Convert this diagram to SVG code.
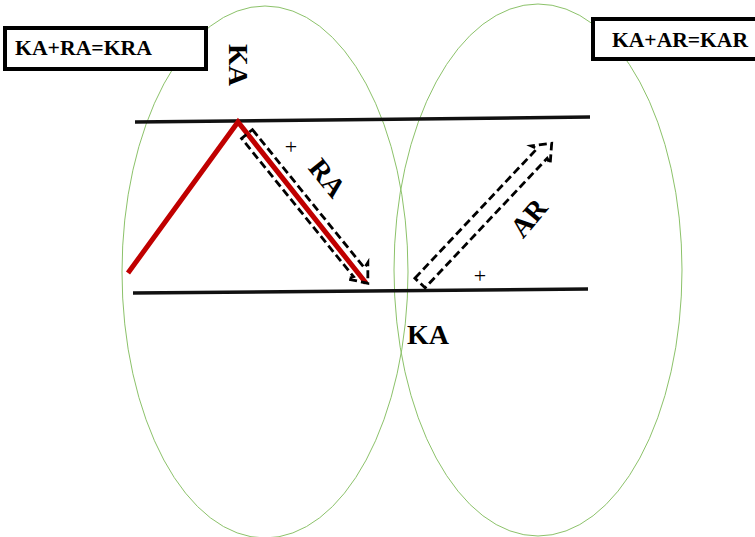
<svg xmlns="http://www.w3.org/2000/svg" width="755" height="537" viewBox="0 0 755 537">
<style>
.ell{fill:none;stroke:#8cc26a;stroke-width:1}
.bar{stroke:#111;stroke-width:3.5;fill:none}
.red{stroke:#c00000;stroke-width:5;fill:none;stroke-linejoin:miter}
.dash{fill:none;stroke:#000;stroke-width:2.8;stroke-dasharray:8 4}
.box{fill:#fff;stroke:#000;stroke-width:4}
.t{font-family:"Liberation Serif","Times New Roman",serif;font-weight:bold;fill:#000}
.p{font-family:"Liberation Serif","Times New Roman",serif;font-size:22px;fill:#000}
</style>
<rect width="755" height="537" fill="#fff"/>
<g id="ellipses">
<ellipse id="ellipse-left" class="ell" cx="265" cy="272" rx="143" ry="266"/>
<ellipse id="ellipse-right" class="ell" cx="538" cy="270" rx="144" ry="266"/>
</g>
<g id="connectors">
<line class="bar" x1="135" y1="122" x2="590" y2="117"/>
<line class="bar" x1="133" y1="293" x2="588" y2="289"/>
<polyline class="red" points="128,273 238,122 366,283"/>
</g>
<g id="arrow-ra" transform="translate(247,134) rotate(51)">
<polygon class="dash" points="0,-7 178,-7 176,-13 192,0 176,13 178,7 0,7"/>
</g>
<g id="arrow-ar" transform="translate(420,283) rotate(-46.7)">
<polygon class="dash" points="0,-7 178,-7 176,-13 192,0 176,13 178,7 0,7"/>
</g>
<g id="box-kra">
<rect class="box" x="5" y="28" width="201" height="41"/>
<text class="t" x="15" y="55" font-size="22" textLength="137" lengthAdjust="spacingAndGlyphs">KA+RA=KRA</text>
</g>
<g id="box-kar">
<rect class="box" x="593" y="19" width="166" height="40"/>
<text class="t" x="612" y="47" font-size="22" textLength="136" lengthAdjust="spacingAndGlyphs">KA+AR=KAR</text>
</g>
<g id="labels">
<text class="t" font-size="28" text-anchor="middle" transform="translate(229,65) rotate(90)">KA</text>
<text class="t" font-size="28" text-anchor="middle" transform="translate(320,184) rotate(51)">RA</text>
<text class="t" font-size="28" text-anchor="middle" transform="translate(536,224) rotate(-50)">AR</text>
<text class="t" font-size="28" x="428" y="344" text-anchor="middle">KA</text>
<text class="p" x="291" y="154" text-anchor="middle">+</text>
<text class="p" x="480" y="283" text-anchor="middle">+</text>
</g>
</svg>
